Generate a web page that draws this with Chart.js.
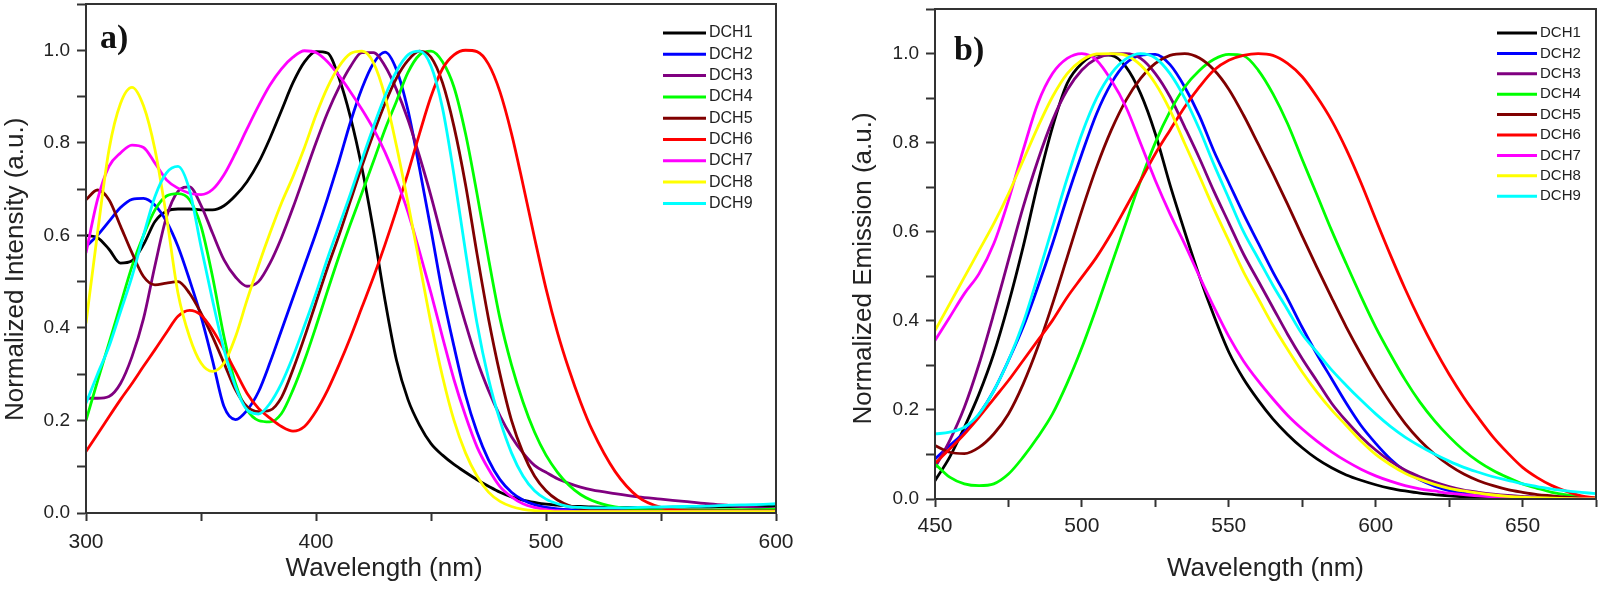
<!DOCTYPE html>
<html>
<head>
<meta charset="utf-8">
<title>DCH absorption and emission</title>
<script src="https://cdn.jsdelivr.net/npm/chart.js@4.4.0/dist/chart.umd.min.js"></script>
<style>
  body { margin: 0; background: #fff; }
  .row { display: flex; width: 1600px; height: 590px; }
  canvas { display: block; }
</style>
</head>
<body>
<div class="row">
  <canvas id="absChart" width="800" height="590"></canvas>
  <canvas id="emChart" width="800" height="590"></canvas>
</div>
<script>
// series names and colours
const seriesNames = ['DCH1', 'DCH2', 'DCH3', 'DCH4', 'DCH5', 'DCH6', 'DCH7', 'DCH8', 'DCH9'];
const seriesColors = ['#000000', '#0000ff', '#800080', '#00ff00', '#800000', '#ff0000', '#ff00ff', '#ffff00', '#00ffff'];

// a) absorption, wavelength (nm)
const absWavelength = [300,305,310,315,320,325,330,335,340,345,350,355,360,365,370,375,380,385,390,395,
  400,405,410,415,420,425,430,435,440,445,450,455,460,465,470,475,480,485,490,495,
  500,505,510,515,520,530,540,550,560,570,580,590,600];

const absDCH1 = [0.600,0.595,0.570,0.540,0.545,0.580,0.630,0.652,0.657,0.657,0.655,0.655,0.664,0.686,0.716,0.757,0.810,0.870,0.930,0.975,
  0.997,0.994,0.940,0.855,0.745,0.610,0.460,0.330,0.245,0.190,0.150,0.125,0.105,0.088,0.072,0.058,0.045,0.035,0.028,0.023,
  0.019,0.017,0.015,0.014,0.013,0.012,0.012,0.012,0.013,0.013,0.014,0.014,0.015];
const absDCH2 = [0.576,0.600,0.630,0.660,0.678,0.680,0.665,0.630,0.576,0.504,0.425,0.330,0.230,0.202,0.222,0.262,0.325,0.395,0.465,0.535,
  0.605,0.680,0.760,0.845,0.918,0.972,0.996,0.958,0.870,0.745,0.612,0.475,0.360,0.255,0.175,0.115,0.072,0.045,0.028,0.018,
  0.012,0.009,0.007,0.006,0.006,0.005,0.005,0.005,0.005,0.005,0.005,0.005,0.005];
const absDCH3 = [0.248,0.248,0.252,0.280,0.338,0.420,0.535,0.640,0.695,0.705,0.665,0.605,0.547,0.510,0.490,0.500,0.540,0.595,0.660,0.730,
  0.800,0.865,0.920,0.965,0.995,0.995,0.966,0.915,0.850,0.771,0.685,0.590,0.497,0.410,0.330,0.265,0.210,0.165,0.130,0.103,
  0.088,0.074,0.064,0.056,0.050,0.042,0.035,0.030,0.025,0.020,0.016,0.012,0.008];
const absDCH4 = [0.200,0.285,0.367,0.450,0.533,0.600,0.655,0.685,0.690,0.677,0.620,0.511,0.381,0.280,0.223,0.200,0.197,0.215,0.266,0.330,
  0.403,0.480,0.555,0.625,0.692,0.760,0.829,0.890,0.952,0.990,0.998,0.975,0.920,0.820,0.690,0.550,0.420,0.320,0.240,0.175,
  0.125,0.088,0.060,0.040,0.027,0.013,0.008,0.006,0.006,0.006,0.007,0.007,0.008];
const absDCH5 = [0.677,0.698,0.677,0.620,0.562,0.511,0.493,0.497,0.500,0.475,0.432,0.381,0.324,0.266,0.230,0.219,0.222,0.250,0.310,0.380,
  0.455,0.530,0.600,0.675,0.750,0.820,0.885,0.940,0.978,0.998,0.985,0.930,0.835,0.710,0.560,0.420,0.300,0.200,0.130,0.080,
  0.048,0.028,0.016,0.010,0.007,0.005,0.004,0.004,0.004,0.004,0.004,0.004,0.004];
const absDCH6 = [0.133,0.170,0.208,0.245,0.280,0.317,0.353,0.390,0.425,0.438,0.428,0.396,0.353,0.306,0.259,0.226,0.205,0.187,0.177,0.187,
  0.220,0.265,0.320,0.380,0.445,0.510,0.580,0.655,0.735,0.820,0.900,0.960,0.990,1.000,0.997,0.970,0.910,0.820,0.710,0.595,
  0.485,0.390,0.310,0.240,0.180,0.090,0.035,0.012,0.005,0.004,0.004,0.004,0.004];
const absDCH7 = [0.562,0.677,0.749,0.778,0.795,0.790,0.756,0.720,0.702,0.691,0.688,0.699,0.731,0.778,0.830,0.880,0.925,0.960,0.985,0.999,
  0.995,0.975,0.945,0.910,0.872,0.830,0.780,0.720,0.650,0.565,0.475,0.380,0.288,0.210,0.143,0.095,0.057,0.035,0.020,0.012,
  0.007,0.005,0.004,0.003,0.003,0.003,0.003,0.003,0.003,0.003,0.003,0.003,0.003];
const absDCH8 = [0.410,0.605,0.785,0.885,0.920,0.880,0.785,0.640,0.475,0.381,0.324,0.306,0.324,0.381,0.460,0.535,0.605,0.670,0.727,0.790,
  0.860,0.920,0.965,0.993,0.998,0.973,0.901,0.793,0.670,0.540,0.410,0.295,0.200,0.130,0.080,0.045,0.025,0.014,0.008,0.005,
  0.004,0.003,0.003,0.003,0.003,0.003,0.003,0.003,0.003,0.003,0.003,0.003,0.003];
const absDCH9 = [0.237,0.300,0.360,0.435,0.511,0.600,0.684,0.735,0.749,0.698,0.576,0.460,0.353,0.273,0.223,0.214,0.237,0.280,0.338,0.405,
  0.475,0.550,0.620,0.690,0.764,0.835,0.901,0.955,0.990,0.998,0.966,0.875,0.730,0.565,0.410,0.290,0.200,0.130,0.080,0.048,
  0.030,0.020,0.014,0.012,0.011,0.011,0.012,0.013,0.014,0.015,0.017,0.018,0.020];

// b) emission, wavelength (nm)
const emWavelength = [450,455,460,465,470,475,480,485,490,495,500,505,510,515,520,525,530,535,540,545,
  550,555,560,565,570,575,580,585,590,595,600,605,610,615,620,625,630,635,640,645,
  650,655,660,665,670,675];

const emDCH1 = [0.041,0.094,0.161,0.236,0.326,0.438,0.566,0.708,0.835,0.933,0.978,0.997,0.996,0.970,0.910,0.820,0.705,0.600,0.500,0.410,
  0.330,0.270,0.222,0.180,0.145,0.115,0.090,0.070,0.054,0.042,0.032,0.024,0.018,0.013,0.010,0.007,0.005,0.004,0.003,0.002,
  0.002,0.001,0.001,0.001,0.000,0.000];
const emDCH2 = [0.090,0.120,0.150,0.190,0.243,0.311,0.386,0.476,0.573,0.678,0.775,0.865,0.933,0.978,0.996,0.998,0.975,0.925,0.860,0.780,
  0.710,0.640,0.575,0.510,0.450,0.385,0.325,0.270,0.215,0.165,0.125,0.090,0.063,0.043,0.029,0.019,0.013,0.009,0.006,0.004,
  0.003,0.002,0.001,0.001,0.000,0.000];
const emDCH3 = [0.071,0.131,0.206,0.303,0.416,0.536,0.655,0.760,0.850,0.918,0.963,0.989,0.999,1.000,0.989,0.955,0.903,0.835,0.765,0.690,
  0.620,0.550,0.490,0.430,0.370,0.315,0.265,0.215,0.175,0.140,0.110,0.085,0.065,0.050,0.038,0.028,0.020,0.015,0.011,0.008,
  0.006,0.004,0.003,0.002,0.001,0.000];
const emDCH4 = [0.079,0.049,0.034,0.030,0.034,0.056,0.094,0.139,0.191,0.260,0.340,0.430,0.525,0.620,0.715,0.800,0.870,0.925,0.962,0.987,
  0.998,0.995,0.963,0.910,0.843,0.762,0.683,0.603,0.528,0.455,0.386,0.325,0.268,0.218,0.176,0.140,0.109,0.084,0.064,0.048,
  0.034,0.024,0.015,0.009,0.005,0.002];
const emDCH5 = [0.120,0.105,0.102,0.116,0.146,0.191,0.258,0.341,0.438,0.543,0.648,0.745,0.828,0.895,0.944,0.978,0.996,1.000,0.990,0.963,
  0.920,0.862,0.797,0.731,0.662,0.590,0.520,0.452,0.386,0.325,0.268,0.216,0.170,0.132,0.101,0.076,0.056,0.041,0.030,0.021,
  0.015,0.010,0.007,0.004,0.002,0.001];
const emDCH6 = [0.080,0.112,0.146,0.184,0.225,0.266,0.311,0.356,0.401,0.453,0.498,0.543,0.596,0.655,0.715,0.775,0.828,0.880,0.925,0.963,
  0.985,0.996,1.000,0.996,0.978,0.948,0.903,0.850,0.785,0.710,0.628,0.548,0.472,0.402,0.338,0.280,0.228,0.182,0.139,0.103,
  0.071,0.048,0.030,0.017,0.007,0.002];
const emDCH7 = [0.356,0.408,0.461,0.506,0.573,0.670,0.783,0.888,0.955,0.989,1.000,0.985,0.940,0.880,0.798,0.715,0.640,0.572,0.500,0.430,
  0.365,0.310,0.265,0.225,0.188,0.157,0.130,0.106,0.085,0.067,0.052,0.040,0.030,0.023,0.018,0.013,0.010,0.007,0.005,0.004,
  0.003,0.002,0.001,0.001,0.000,0.000];
const emDCH8 = [0.378,0.438,0.498,0.558,0.618,0.685,0.760,0.835,0.903,0.955,0.985,0.999,1.000,0.996,0.974,0.933,0.873,0.798,0.725,0.650,
  0.580,0.510,0.450,0.390,0.336,0.285,0.240,0.200,0.165,0.130,0.100,0.077,0.058,0.044,0.033,0.024,0.018,0.013,0.009,0.006,
  0.004,0.003,0.002,0.001,0.000,0.000];
const emDCH9 = [0.146,0.150,0.161,0.191,0.243,0.311,0.395,0.500,0.610,0.720,0.820,0.900,0.955,0.988,1.000,0.990,0.955,0.900,0.830,0.750,
  0.675,0.600,0.540,0.480,0.425,0.370,0.330,0.290,0.255,0.222,0.191,0.163,0.139,0.119,0.101,0.085,0.071,0.060,0.050,0.042,
  0.034,0.028,0.022,0.018,0.015,0.012];

const absSeries = [absDCH1, absDCH2, absDCH3, absDCH4, absDCH5, absDCH6, absDCH7, absDCH8, absDCH9];
const emSeries = [emDCH1, emDCH2, emDCH3, emDCH4, emDCH5, emDCH6, emDCH7, emDCH8, emDCH9];

Chart.defaults.font.family = '"Liberation Sans", Arial, sans-serif';
Chart.defaults.color = '#222';

// box around the plot area
const frameBox = {
  id: 'frameBox',
  afterDraw(chart) {
    const a = chart.chartArea;
    const ctx = chart.ctx;
    ctx.save();
    ctx.strokeStyle = '#333';
    ctx.lineWidth = 2;
    ctx.strokeRect(a.left, a.top, a.right - a.left, a.bottom - a.top);
    ctx.restore();
  }
};

// legend list inside the plot, built from the datasets
const lineLegend = {
  id: 'lineLegend',
  afterDatasetsDraw(chart, args, opts) {
    const ctx = chart.ctx;
    ctx.save();
    ctx.font = opts.fontSize + 'px "Liberation Sans", Arial, sans-serif';
    ctx.textBaseline = 'middle';
    ctx.fillStyle = '#222';
    chart.data.datasets.forEach(function(ds, i) {
      var y = opts.top + i * opts.rowHeight;
      ctx.strokeStyle = ds.borderColor;
      ctx.lineWidth = 3;
      ctx.beginPath();
      ctx.moveTo(opts.left, y);
      ctx.lineTo(opts.left + opts.lineLength, y);
      ctx.stroke();
      ctx.fillText(ds.label, opts.left + opts.lineLength + 3, y);
    });
    ctx.restore();
  }
};

// "a)" / "b)" tag
const panelTag = {
  id: 'panelTag',
  afterDraw(chart, args, opts) {
    const ctx = chart.ctx;
    ctx.save();
    ctx.font = 'bold 34px "Liberation Serif", "Times New Roman", serif';
    ctx.fillStyle = '#111';
    ctx.textBaseline = 'alphabetic';
    ctx.fillText(opts.text, opts.x, opts.y);
    ctx.restore();
  }
};

function buildDatasets(xs, series) {
  return series.map(function(values, i) {
    return {
      label: seriesNames[i],
      data: xs.map(function(x, j) { return { x: x, y: values[j] }; }),
      borderColor: seriesColors[i],
      backgroundColor: seriesColors[i],
      borderWidth: 2.8,
      pointRadius: 0,
      cubicInterpolationMode: 'monotone',
      order: series.length - 1 - i
    };
  });
}

function makeChart(id, cfg) {
  const ctx = document.getElementById(id).getContext('2d');
  return new Chart(ctx, {
    type: 'line',
    data: { datasets: buildDatasets(cfg.xs, cfg.series) },
    options: {
      responsive: false,
      animation: false,
      layout: { autoPadding: false, padding: cfg.padding },
      plugins: {
        legend: { display: false },
        tooltip: { enabled: false },
        lineLegend: cfg.legend,
        panelTag: cfg.tag
      },
      scales: {
        x: {
          type: 'linear',
          min: cfg.xMin,
          max: cfg.xMax,
          grid: { drawOnChartArea: false, tickLength: 8, tickColor: '#333', tickWidth: 2 },
          border: { color: '#333', width: 2 },
          ticks: {
            stepSize: cfg.xStep,
            autoSkip: false,
            maxRotation: 0,
            padding: cfg.xTickPad,
            font: { size: 21 },
            color: '#222',
            callback: function(v) { return v % cfg.xLabelEvery === 0 ? String(v) : ''; }
          },
          title: {
            display: true,
            text: cfg.xTitle,
            font: { size: 26 },
            color: '#222',
            padding: { top: 0, bottom: 6 }
          },
          afterFit: function(scale) {
            scale.height = cfg.xHeight;
            scale.paddingLeft = 0;
            scale.paddingRight = 0;
          }
        },
        y: {
          min: 0,
          max: 1.1,
          grid: { drawOnChartArea: false, tickLength: 9, tickColor: '#333', tickWidth: 2 },
          border: { color: '#333', width: 2 },
          ticks: {
            stepSize: 0.1,
            autoSkip: false,
            padding: 7,
            font: { size: 19 },
            color: '#222',
            callback: function(v) { return Math.round(v * 10) % 2 === 0 ? v.toFixed(1) : ''; }
          },
          title: {
            display: true,
            text: cfg.yTitle,
            font: { size: 26 },
            color: '#222',
            padding: { top: cfg.yTitlePad, bottom: 0 }
          },
          afterFit: function(scale) {
            scale.width = cfg.yWidth;
            scale.paddingTop = 0;
            scale.paddingBottom = 0;
          }
        }
      }
    },
    plugins: [frameBox, lineLegend, panelTag]
  });
}

const nb = '\u00a0';

makeChart('absChart', {
  xs: absWavelength,
  series: absSeries,
  xMin: 300, xMax: 600, xStep: 50, xLabelEvery: 100,
  xTitle: 'Wavelength (nm)' + nb.repeat(13),
  yTitle: 'Normalized Intensity (a.u.)' + nb.repeat(3),
  padding: { left: 0, right: 24, top: 4, bottom: 0 },
  yWidth: 86, xHeight: 77, xTickPad: 9, yTitlePad: 0,
  legend: { left: 663, top: 33, rowHeight: 21.3, lineLength: 43, fontSize: 16 },
  tag: { text: 'a)', x: 100, y: 48 }
});

makeChart('emChart', {
  xs: emWavelength,
  series: emSeries,
  xMin: 450, xMax: 675, xStep: 25, xLabelEvery: 50,
  xTitle: 'Wavelength (nm)',
  yTitle: 'Normalized Emission (a.u.)' + nb.repeat(4),
  padding: { left: 0, right: 4, top: 9, bottom: 0 },
  yWidth: 135, xHeight: 91, xTickPad: 7, yTitlePad: 48,
  legend: { left: 697, top: 33, rowHeight: 20.4, lineLength: 40, fontSize: 15 },
  tag: { text: 'b)', x: 154, y: 60 }
});
</script>
</body>
</html>
